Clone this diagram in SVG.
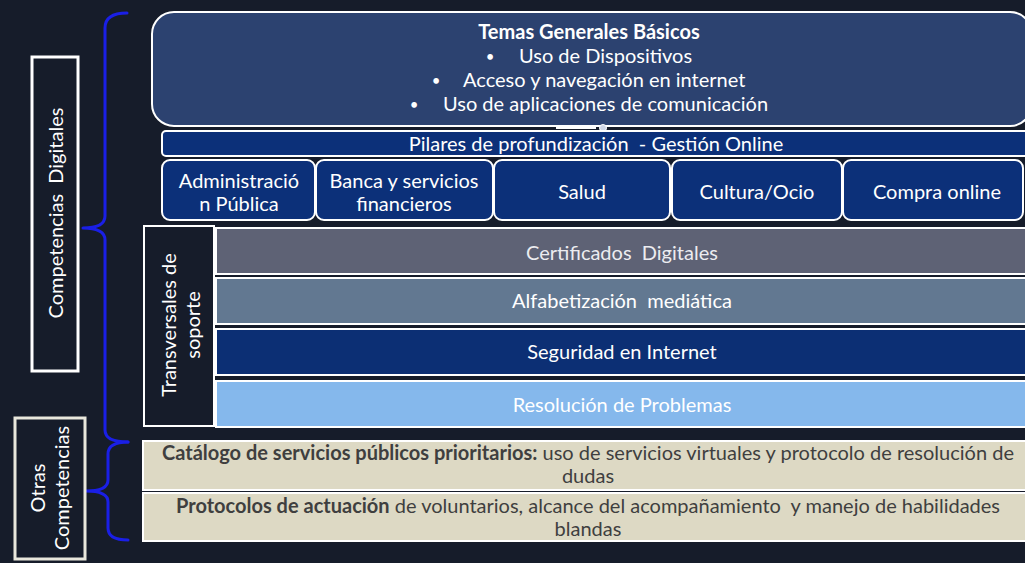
<svg xmlns="http://www.w3.org/2000/svg" width="1025" height="563" viewBox="0 0 1025 563">
<style>
text{font-family:Lato,"Noto Sans","Liberation Sans",sans-serif;font-size:20px;text-anchor:middle}
.s{text-anchor:start}
.bu{font-size:15px}
.w{fill:#ffffff}
.d{fill:#3f3f3f}
.b{font-weight:bold}
.box{stroke:#ffffff;stroke-width:2}
.pil{fill:#0c3079;stroke:#ffffff;stroke-width:2}
.brace{fill:none;stroke:#1a1fe6;stroke-width:3;stroke-linecap:round;stroke-linejoin:round}
</style>
<rect x="0" y="0" width="1025" height="563" fill="#161c2a"/>

<g id="connectors">
<path class="brace" d="M127,13 Q105,13 105,28 L105,216 Q105,228 83,228 Q105,228 105,240 L105,430 Q105,442 128,442"/>
<path class="brace" d="M128,442 Q108,442 108,454 L108,480 Q108,491 86,491 Q108,491 108,502 L108,528 Q108,540 128,540"/>
</g>

<g id="competencias-digitales">
<rect x="32" y="57" width="46" height="314" fill="#161c2a" stroke="#ffffff" stroke-width="3"/>
<text class="w" xml:space="preserve" transform="translate(63,213) rotate(-90)">Competencias  Digitales</text>
</g>

<g id="otras-competencias">
<rect x="15" y="418" width="70" height="141" fill="#161c2a" stroke="#e9e7dc" stroke-width="3"/>
<text class="w" transform="translate(45,488) rotate(-90)">Otras</text>
<text class="w" transform="translate(69,488) rotate(-90)">Competencias</text>
</g>

<g id="temas-generales">
<rect x="152" y="12" width="880" height="114" rx="22" fill="#2c4270" class="box"/>
<text class="w b" x="589" y="39">Temas Generales Básicos</text>
<text class="w bu" x="490" y="62">•</text>
<text class="w s" x="519" y="63">Uso de Dispositivos</text>
<text class="w bu" x="436" y="86">•</text>
<text class="w s" x="463" y="87">Acceso y navegación en internet</text>
<text class="w bu" x="414" y="110">•</text>
<text class="w s" x="443" y="111">Uso de aplicaciones de comunicación</text>
</g>

<g id="handles">
<line x1="556" y1="128" x2="596" y2="128" stroke="#ffffff" stroke-width="2"/>
<circle cx="603" cy="128" r="3.5" fill="#cfd6e6" stroke="#ffffff" stroke-width="1"/>
</g>

<g id="pilares">
<rect x="162" y="131" width="870" height="25" rx="4" class="pil"/>
<text class="w" xml:space="preserve" x="596" y="151">Pilares de profundización  - Gestión Online</text>
</g>

<g id="administracion">
<rect x="162" y="160" width="153" height="60" rx="8" class="pil"/>
<text class="w" x="239" y="188">Administració</text>
<text class="w" x="239" y="211">n Pública</text>
</g>
<g id="banca">
<rect x="316" y="160" width="177" height="60" rx="8" class="pil"/>
<text class="w" x="404" y="188">Banca y servicios</text>
<text class="w" x="404" y="211">financieros</text>
</g>
<g id="salud">
<rect x="494" y="160" width="176" height="60" rx="8" class="pil"/>
<text class="w" x="582" y="199">Salud</text>
</g>
<g id="cultura">
<rect x="672" y="160" width="170" height="60" rx="8" class="pil"/>
<text class="w" x="757" y="199">Cultura/Ocio</text>
</g>
<g id="compra">
<rect x="843" y="160" width="180" height="60" rx="8" class="pil"/>
<text class="w" x="937" y="199">Compra online</text>
</g>

<g id="transversales">
<rect x="144" y="226" width="70" height="200" fill="#161c2a" class="box" stroke-width="3"/>
<text class="w" transform="translate(176,325) rotate(-90)">Transversales de</text>
<text class="w" transform="translate(200,325) rotate(-90)">soporte</text>
</g>

<g id="certificados">
<rect x="216" y="228" width="815" height="46" fill="#5e6275" class="box"/>
<text x="622" y="260" fill="#ececf0" xml:space="preserve">Certificados  Digitales</text>
</g>
<g id="alfabetizacion">
<rect x="216" y="278" width="815" height="46" fill="#627891" class="box"/>
<text class="w" x="622" y="308" xml:space="preserve">Alfabetización  mediática</text>
</g>
<g id="seguridad">
<rect x="216" y="329" width="815" height="46" fill="#0c2f74" class="box"/>
<text class="w" x="622" y="359">Seguridad en Internet</text>
</g>
<g id="resolucion">
<rect x="216" y="381" width="815" height="46" fill="#85b8ec" class="box"/>
<text class="w" x="622" y="412">Resolución de Problemas</text>
</g>

<g id="catalogo">
<rect x="143" y="441" width="890" height="49" fill="#ddd9c4" class="box"/>
<text class="d" x="588" y="460"><tspan class="b">Catálogo de servicios públicos prioritarios:</tspan> uso de servicios virtuales y protocolo de resolución de</text>
<text class="d" x="588" y="483">dudas</text>
</g>
<g id="protocolos">
<rect x="143" y="493" width="890" height="48" fill="#ddd9c4" class="box"/>
<text class="d" x="588" y="513" xml:space="preserve"><tspan class="b">Protocolos de actuación</tspan> de voluntarios, alcance del acompañamiento  y manejo de habilidades</text>
<text class="d" x="588" y="536">blandas</text>
</g>
</svg>
